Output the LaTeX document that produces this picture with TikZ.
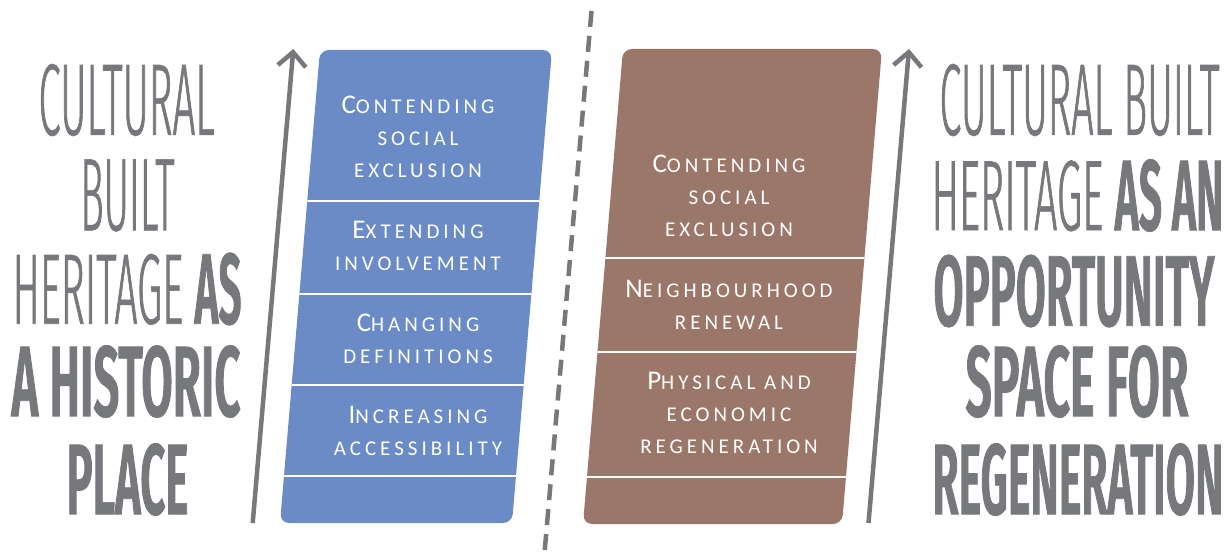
\documentclass[tikz,border=0pt]{standalone}
\usepackage{fontspec}
\usepackage{graphicx}
\usetikzlibrary{arrows.meta}
\IfFontExistsTF{Fira Sans Light}
  {\newfontfamily\titlelightfont[FakeStretch=0.36,FakeBold=0.6]{Fira Sans Light}}
  {\newfontfamily\titlelightfont[FakeStretch=0.36]{Fira Sans}}
\IfFontExistsTF{Fira Sans SemiBold}
  {\newfontfamily\titleboldfont[FakeStretch=0.36,FakeBold=0.7]{Fira Sans SemiBold}}
  {\newfontfamily\titleboldfont[FakeStretch=0.36,FakeBold=0.6]{Fira Sans Bold}}
\newfontfamily\boxfont[LetterSpace=19]{Carlito}
\newcommand\tlt{\titlelightfont\fontsize{103pt}{110pt}\selectfont}
\newcommand\tbd{\titleboldfont\fontsize{103pt}{110pt}\selectfont}
\newcommand\tline[2]{\resizebox{#1}{71pt}{#2}}
\newcommand\ini[1]{{\fontsize{27pt}{32pt}\selectfont #1}}
\definecolor{blueb}{RGB}{107,139,198}
\definecolor{brownb}{RGB}{155,119,105}
\definecolor{greyt}{RGB}{119,120,124}
\begin{document}
\begin{tikzpicture}[x=1pt,y=-1pt,
  title/.style={inner sep=0pt, text=greyt, anchor=center},
  seg/.style={text=white, align=center, inner sep=0pt, font=\boxfont\fontsize{21pt}{32pt}\selectfont},
  divider/.style={white, line width=1.8pt},
  axis/.style={greyt, line width=4.5pt, -{Straight Barb[length=14pt,width=28pt]}},
  divline/.style={greyt, line width=4.5pt, dash pattern=on 16pt off 9pt}]
\fill[white] (0,0) rectangle (1231,553);
\useasboundingbox (0,0) rectangle (1231,553);

% left axis arrow
\coordinate (la0) at (252.7,523);
\coordinate (la1) at (293.3,49);
\draw[axis] (la0) -- (la1);
% right axis arrow
\coordinate (ra0) at (868.5,523);
\coordinate (ra1) at (909,49);
\draw[axis] (ra0) -- (ra1);
% dashed divider
\coordinate (d0) at (591.5,11);
\coordinate (d1) at (544.5,553);
\draw[divline] (d0) -- (d1);

% blue box
\fill[blueb, rounded corners=9pt] (320,50) -- (552,50) -- (512,523) -- (280,523) -- cycle;
\begin{scope}
\clip (320,50) -- (552,50) -- (512,523) -- (280,523) -- cycle;
\foreach \yy in {201,294,385,476} \draw[divider] (250,\yy) -- (600,\yy);
\end{scope}
% brown box
\fill[brownb, rounded corners=9pt] (623,49) -- (882,49) -- (842,524) -- (583,524) -- cycle;
\begin{scope}
\clip (623,49) -- (882,49) -- (842,524) -- (583,524) -- cycle;
\foreach \yy in {258,352,477} \draw[divider] (560,\yy) -- (900,\yy);
\end{scope}

% blue texts
\node[seg] (b1) at (418,137) {\ini{C}ONTENDING\\SOCIAL\\EXCLUSION};
\node[seg] (b2) at (418,246) {\ini{E}XTENDING\\INVOLVEMENT};
\node[seg] (b3) at (418,338.5) {\ini{C}HANGING\\DEFINITIONS};
\node[seg] (b4) at (418,431) {\ini{I}NCREASING\\ACCESSIBILITY};
% brown texts
\node[seg] (c1) at (729,196) {\ini{C}ONTENDING\\SOCIAL\\EXCLUSION};
\node[seg] (c2) at (729,304.5) {\ini{N}EIGHBOURHOOD\\RENEWAL};
\node[seg] (c3) at (729,413) {\ini{P}HYSICAL AND\\ECONOMIC\\REGENERATION};

% left title
\node[title] (l1) at (126.5,100)   {\tline{176pt}{\tlt CULTURAL}};
\node[title] (l2) at (127.5,195.5) {\tline{94pt}{\tlt BUILT}};
\node[title] (l3) at (127,289)     {\tline{229pt}{\tlt HERITAGE \tbd AS}};
\node[title] (l4) at (126,381.5)   {\tline{229pt}{\tbd A HISTORIC}};
\node[title] (l5) at (127.5,479.5) {\tline{122pt}{\tbd PLACE}};
% right title
\node[title] (r1) at (1079.5,100)   {\tline{280pt}{\tlt CULTURAL BUILT}};
\node[title] (r2) at (1077.5,195.5) {\tline{292pt}{\tlt HERITAGE \tbd AS AN}};
\node[title] (r3) at (1074,291)     {\tline{281pt}{\tbd OPPORTUNITY}};
\node[title] (r4) at (1077,381.5)   {\tline{223pt}{\tbd SPACE FOR}};
\node[title] (r5) at (1078,479.5)   {\tline{291pt}{\tbd REGENERATION}};
\end{tikzpicture}
\end{document}
